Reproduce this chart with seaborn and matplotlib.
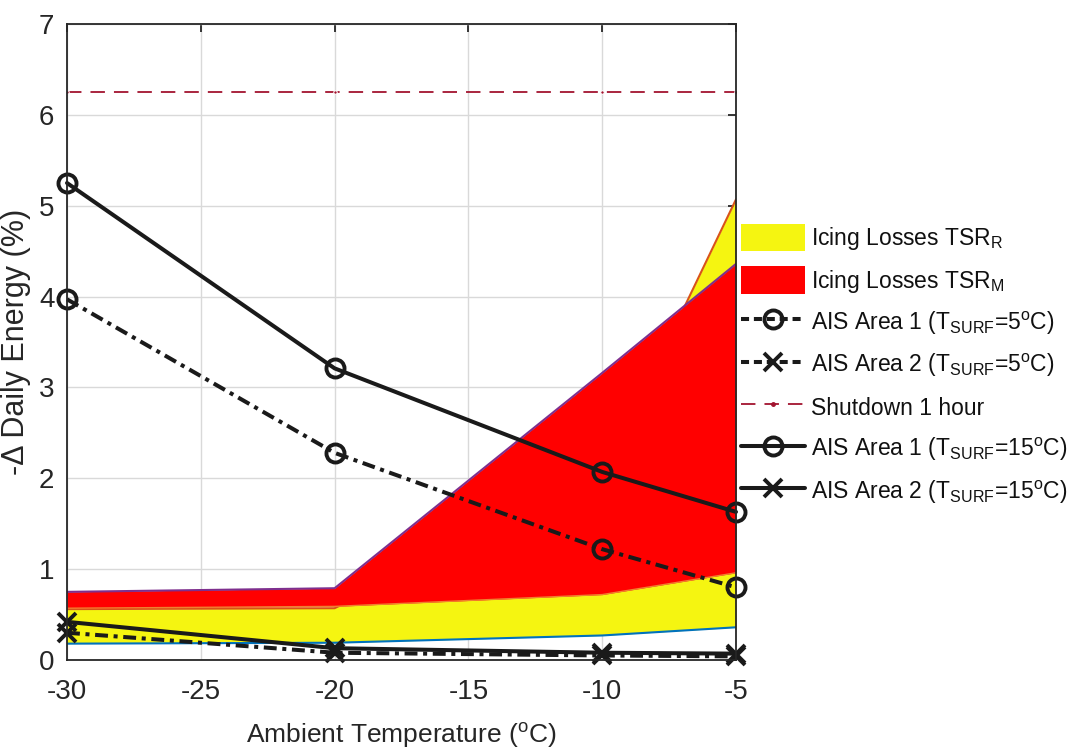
import numpy as np
import pandas as pd
import matplotlib
matplotlib.use("Agg")
import matplotlib.pyplot as plt
import seaborn as sns
from matplotlib.patches import Patch
from matplotlib.lines import Line2D

# ---- data ----
temps = [-30, -20, -10, -5]
tsr_r_lower = [0.18, 0.19, 0.27, 0.36]
tsr_r_upper = [0.56, 0.57, 2.00, 5.07]
tsr_m_lower = [0.57, 0.59, 0.72, 0.96]
tsr_m_upper = [0.75, 0.79, 3.16, 4.36]
ais1_t5 = [3.97, 2.28, 1.22, 0.80]
ais2_t5 = [0.30, 0.08, 0.05, 0.04]
shutdown = [6.25, 6.25, 6.25, 6.25]
ais1_t15 = [5.25, 3.21, 2.07, 1.63]
ais2_t15 = [0.42, 0.13, 0.08, 0.07]
xticks = [-30, -25, -20, -15, -10, -5]
yticks = [0, 1, 2, 3, 4, 5, 6, 7]

sns.set_theme(style="white")
plt.rcParams['font.family'] = ['Liberation Sans', 'DejaVu Sans']
plt.rcParams['mathtext.default'] = 'regular'
plt.rcParams['axes.unicode_minus'] = False

text_c = '#262626'
fig = plt.figure(figsize=(10.74, 7.56), dpi=100)
ax = fig.add_axes([67/1074, 1-660/756, (736-67)/1074, (660-24)/756])

# areas
ax.fill_between(temps, tsr_r_lower, tsr_r_upper, color='#F5F511', lw=0, zorder=2)
ax.plot(temps, tsr_r_lower, color='#0072BD', lw=1.5, zorder=2.1)
ax.plot(temps, tsr_r_upper, color='#D95319', lw=1.5, zorder=2.1)
ax.fill_between(temps, tsr_m_lower, tsr_m_upper, color='#FF0000', lw=0, zorder=2.2)
ax.plot(temps, tsr_m_lower, color='#F08030', lw=1.0, zorder=2.3)
ax.plot(temps, tsr_m_upper, color='#7E2F8E', lw=1.5, zorder=2.3)

dashdot = (0, (3.2, 1.4, 1.0, 1.4))
lw = 2.9
common = dict(color='k', lw=lw, markersize=13, markeredgewidth=2.8,
              markerfacecolor='none', markeredgecolor='k')

df = pd.DataFrame({'T': temps, 'a1t5': ais1_t5, 'a2t5': ais2_t5, 'sd': shutdown,
                   'a1t15': ais1_t15, 'a2t15': ais2_t15})
sns.lineplot(data=df, x='T', y='a1t5', ax=ax, marker='o', linestyle=dashdot, zorder=4, clip_on=False, **common)
sns.lineplot(data=df, x='T', y='a2t5', ax=ax, marker='x', linestyle=dashdot, zorder=4, clip_on=False, **common)
sns.lineplot(data=df, x='T', y='sd', ax=ax, marker='.', linestyle=(0, (8, 5)), color='#A2142F',
             lw=1.3, markersize=5, zorder=3)
sns.lineplot(data=df, x='T', y='a1t15', ax=ax, marker='o', linestyle='-', zorder=4, clip_on=False, **common)
sns.lineplot(data=df, x='T', y='a2t15', ax=ax, marker='x', linestyle='-', zorder=4, clip_on=False, **common)

ax.set_xlim(-30, -5)
ax.set_ylim(0, 7)
ax.set_xticks(xticks)
ax.set_yticks(yticks)
ax.grid(True, color='#D9D9D9', lw=1.0, zorder=0)
ax.set_axisbelow(True)
for s in ax.spines.values():
    s.set_color(text_c)
    s.set_linewidth(1.3)
    s.set_zorder(5)
ax.tick_params(direction='in', top=True, right=True, length=6, width=1.3,
               colors=text_c, labelsize=20)
ax.tick_params(axis='y', pad=9)
ax.tick_params(axis='x', pad=14)
ax.set_xlabel('Ambient Temperature ($^{o}$C)', fontsize=19, color=text_c, labelpad=11)
ax.set_ylabel('-Δ Daily Energy (%)', fontsize=22, color=text_c, labelpad=6)

lk = dict(common)
handles = [
    Patch(facecolor='#F5F511', edgecolor='none'),
    Patch(facecolor='#FF0000', edgecolor='none'),
    Line2D([], [], marker='o', linestyle=(0, (2.0, 1.2)), **lk),
    Line2D([], [], marker='x', linestyle=(0, (2.0, 1.2)), **lk),
    Line2D([], [], marker='.', linestyle=(0, (8, 5)), color='#A2142F', lw=1.3, markersize=5),
    Line2D([], [], marker='o', linestyle='-', **lk),
    Line2D([], [], marker='x', linestyle='-', **lk),
]
labels = [
    'Icing Losses TSR$_{R}$',
    'Icing Losses TSR$_{M}$',
    'AIS Area 1 (T$_{SURF}$=5$^{o}$C)',
    'AIS Area 2 (T$_{SURF}$=5$^{o}$C)',
    'Shutdown 1 hour',
    'AIS Area 1 (T$_{SURF}$=15$^{o}$C)',
    'AIS Area 2 (T$_{SURF}$=15$^{o}$C)',
]
leg = fig.legend(handles, labels, loc='upper left', bbox_to_anchor=(741/1074, 1-224/756),
                 bbox_transform=fig.transFigure, frameon=False, fontsize=16.5,
                 handlelength=2.8, handleheight=1.45, handletextpad=0.25,
                 labelspacing=0.62, borderpad=0, borderaxespad=0)
for t in leg.get_texts():
    t.set_color('#111111')

fig.savefig('out.png', dpi=100)
